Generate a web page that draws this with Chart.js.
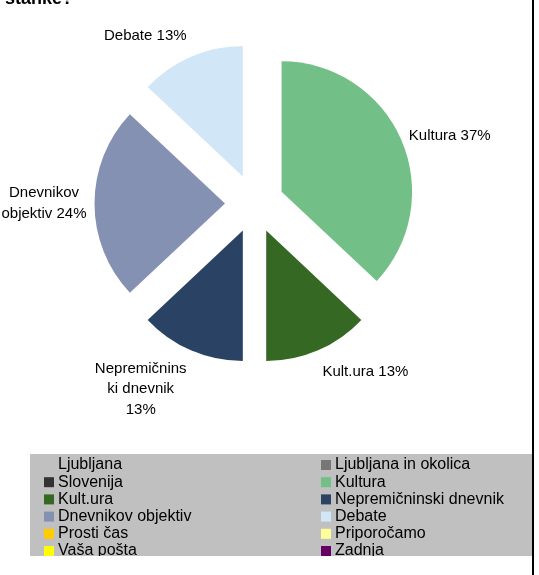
<!DOCTYPE html>
<html>
<head>
<meta charset="utf-8">
<script src="https://cdn.jsdelivr.net/npm/chart.js@4"></script>
<style>
body { margin: 0; background: #fff; }
canvas { display: block; }
</style>
</head>
<body>
<canvas id="myChart" width="539" height="575"></canvas>
<script>
const categories = ['Ljubljana', 'Ljubljana in okolica', 'Slovenija', 'Kultura', 'Kult.ura', 'Nepremičninski dnevnik', 'Dnevnikov objektiv', 'Debate', 'Prosti čas', 'Priporočamo', 'Vaša pošta', 'Zadnja'];
const shares = [0, 0, 0, 37, 13, 13, 24, 13, 0, 0, 0, 0];
const colors = ['#c0c0c0', '#777777', '#333333', '#72bf87', '#346823', '#2a4264', '#8491b3', '#d1e7f7', '#ffcc00', '#ffff99', '#ffff00', '#660066'];
const titleText = 'stanke?';

const FONT = '"Liberation Sans", Arial, sans-serif';

// pull every slice out from the centre (all by the same distance)
const explode = {
    id: 'explode',
    afterDatasetsUpdate(chart) {
        chart.getDatasetMeta(0).data.forEach(arc => {
            const mid = (arc.startAngle + arc.endAngle) / 2;
            arc.x += Math.cos(mid) * 29.5;
            arc.y += Math.sin(mid) * 29.5;
        });
    }
};

function wrap(ctx, text, maxW) {
    const lines = [];
    let line = '';
    text.split(' ').forEach(word => {
        const test = line ? line + ' ' + word : word;
        if (ctx.measureText(test).width <= maxW) { line = test; return; }
        if (line) lines.push(line);
        let w = word;
        while (ctx.measureText(w).width > maxW) {
            let i = w.length;
            while (i > 1 && ctx.measureText(w.slice(0, i)).width > maxW) i--;
            lines.push(w.slice(0, i));
            w = w.slice(i);
        }
        line = w;
    });
    if (line) lines.push(line);
    return lines;
}

// outside-end labels: "name xx%"
const sliceLabels = {
    id: 'sliceLabels',
    afterDatasetsDraw(chart) {
        const ctx = chart.ctx;
        const ds = chart.data.datasets[0];
        const total = ds.data.reduce((a, b) => a + b, 0);
        ctx.save();
        ctx.font = '15px ' + FONT;
        ctx.fillStyle = '#000';
        ctx.textAlign = 'center';
        ctx.textBaseline = 'middle';
        chart.getDatasetMeta(0).data.forEach((arc, i) => {
            const v = ds.data[i];
            if (!v) return;
            const mid = (arc.startAngle + arc.endAngle) / 2;
            const dx = Math.cos(mid), dy = Math.sin(mid);
            const ox = arc.x + dx * arc.outerRadius;
            const oy = arc.y + dy * arc.outerRadius;
            const lines = wrap(ctx, chart.data.labels[i] + ' ' + Math.round(v / total * 100) + '%', 95);
            const lh = 20.5;
            const w = Math.max(...lines.map(l => ctx.measureText(l).width));
            const h = lines.length * lh;
            const gx = 2 + 6 * Math.abs(dx);
            const cx = dx >= 0 ? ox + gx + w / 2 : ox - gx - w / 2;
            const cy = oy + Math.sign(dy) * dy * dy * (h / 2 + 15);
            lines.forEach((l, k) => ctx.fillText(l, cx, cy - h / 2 + lh * (k + 0.5)));
        });
        ctx.restore();
    }
};

// grey two-column legend box, cut title at the top, right frame edge
const boxLegend = {
    id: 'boxLegend',
    afterDraw(chart) {
        const ctx = chart.ctx;
        const ds = chart.data.datasets[0];
        ctx.save();
        ctx.fillStyle = '#000';
        ctx.font = 'bold 18px ' + FONT;
        ctx.textBaseline = 'alphabetic';
        ctx.fillText(titleText, 5, 4);

        ctx.fillStyle = '#c0c0c0';
        ctx.fillRect(30, 454, 502, 102);
        ctx.beginPath();
        ctx.rect(30, 454, 502, 102);
        ctx.clip();
        ctx.font = '16px ' + FONT;
        ctx.textBaseline = 'middle';
        chart.data.labels.forEach((label, i) => {
            const x = i % 2 ? 321 : 44;
            const y = 465 + Math.floor(i / 2) * 17.2;
            ctx.fillStyle = ds.backgroundColor[i];
            ctx.fillRect(x, y - 5, 10, 10);
            ctx.fillStyle = '#000';
            ctx.fillText(label, x + 14, y);
        });
        ctx.restore();

        ctx.fillStyle = '#000';
        ctx.fillRect(532, 0, 2, 575);
    }
};

const ctx = document.getElementById('myChart').getContext('2d');
const myChart = new Chart(ctx, {
    type: 'pie',
    data: {
        labels: categories,
        datasets: [{
            data: shares,
            backgroundColor: colors,
            borderWidth: 0
        }]
    },
    options: {
        responsive: false,
        animation: false,
        events: [],
        radius: 130.5,
        layout: {
            padding: { left: 0, right: 30, top: 0, bottom: 168 }
        },
        plugins: {
            legend: { display: false },
            tooltip: { enabled: false }
        }
    },
    plugins: [explode, sliceLabels, boxLegend]
});
</script>
</body>
</html>
